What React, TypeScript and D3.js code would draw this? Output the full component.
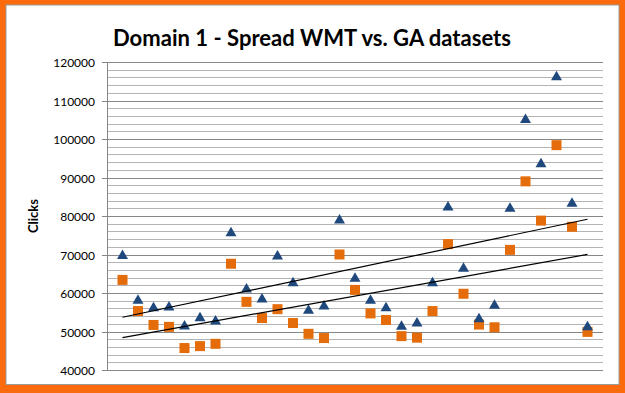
import * as d3 from 'd3';

const W = 625;
const H = 393;

const title = 'Domain 1 - Spread WMT vs. GA datasets';
const yTitle = 'Clicks';
const yTicks = [40000, 50000, 60000, 70000, 80000, 90000, 100000, 110000, 120000];

// x positions 1..31
const days = d3.range(1, 32);
const wmt = [70000, 58400, 56400, 56600, 51700, 53800, 53000, 75900, 61300, 58700, 69900, 62900, 55800, 56900, 79200, 64100, 58400, 56400, 51600, 52500, 62900, 82600, 66700, 53600, 57100, 82300, 105300, 93800, 116400, 83600, 51500];
const ga = [63400, 55300, 51700, 51200, 45700, 46200, 46800, 67600, 57700, 53500, 55800, 52200, 49400, 48300, 70000, 60800, 54700, 53000, 48800, 48400, 55300, 72700, 59800, 51800, 51100, 71200, 89000, 78800, 98400, 77200, 49900];

const margin = { top: 62, right: 22, bottom: 23, left: 107 };

function fit(xs: number[], ys: number[]) {
  const mx = d3.mean(xs)!;
  const my = d3.mean(ys)!;
  const b = d3.sum(xs, (x, i) => (x - mx) * (ys[i] - my)) / d3.sum(xs, x => (x - mx) ** 2);
  return (x: number) => my + b * (x - mx);
}

export default function App() {
  const x = d3.scaleLinear().domain([0, 32]).range([margin.left, W - margin.right]);
  const y = d3.scaleLinear().domain([40000, 120000]).range([H - margin.bottom, margin.top]);
  const grid = d3.range(40000, 120001, 2000);
  const line = d3.line<number>().x(d => x(d[0])).y(d => y(d[1]));
  const trends = [wmt, ga].map(s => {
    const f = fit(days, s);
    const x0 = days[0];
    const x1 = days[days.length - 1];
    return `M${x(x0)},${y(f(x0))}L${x(x1)},${y(f(x1))}`;
  });
  void line;

  return (
    <svg width={W} height={H} style={{ position: 'absolute', left: 0, top: 0 }} fontFamily="Lato, 'Open Sans', sans-serif">
      <rect x={0} y={0} width={W} height={H} fill="#fb6a0c" />
      <rect x={6} y={5} width={613} height={379.5} fill="#fff" stroke="#9a9a9a" strokeWidth={1} />
      <text x={312} y={46} textAnchor="middle" fontSize={23} fontWeight="bold" fill="#000"
        textLength={398} lengthAdjust="spacingAndGlyphs">{title}</text>

      {grid.map(v => (
        <line key={v} x1={x(0)} x2={x(32)} y1={Math.round(y(v)) + 0.5} y2={Math.round(y(v)) + 0.5}
          stroke={v % 10000 === 0 ? '#868686' : '#b4b4b4'} strokeWidth={1} />
      ))}
      <line x1={x(0) + 0.5} x2={x(0) + 0.5} y1={y(120000)} y2={y(40000)} stroke="#868686" />
      {yTicks.map(v => (
        <g key={v} transform={`translate(0,${Math.round(y(v)) + 0.5})`}>
          <line x1={x(0) - 5} x2={x(0)} stroke="#868686" />
          <text x={x(0) - 12} dy="0.35em" textAnchor="end" fontSize={12} fill="#000">{v}</text>
        </g>
      ))}
      <text transform={`translate(38,${(y(40000) + y(120000)) / 2}) rotate(-90)`} textAnchor="middle"
        fontSize={13} fontWeight="bold" fill="#000">{yTitle}</text>

      {ga.map((v, i) => (
        <rect key={i} x={x(days[i]) - 5} y={y(v) - 5} width={10} height={10} fill="#e46c0a" />
      ))}
      {wmt.map((v, i) => (
        <path key={i} transform={`translate(${x(days[i])},${y(v)})`} d="M0,-5L5.5,4.5L-5.5,4.5Z" fill="#1f497d" />
      ))}
      {trends.map((d, i) => (
        <path key={i} d={d} fill="none" stroke="#000" strokeWidth={1.2} />
      ))}
    </svg>
  );
}
